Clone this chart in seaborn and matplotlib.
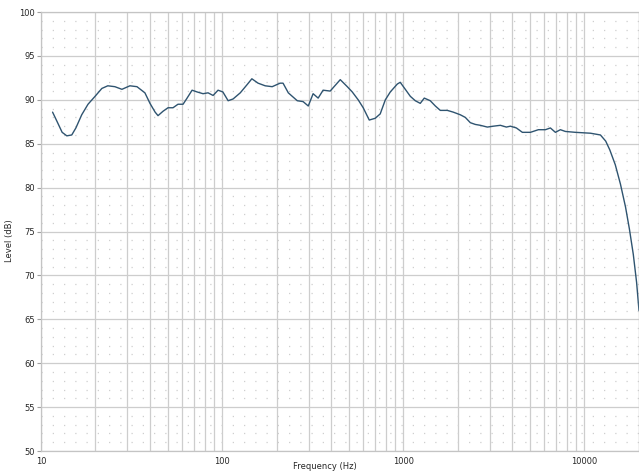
import matplotlib.pyplot as plt
import matplotlib.ticker as mticker
import pandas as pd
import seaborn as sns

# frequency response (Hz, dB)
freq = [11.6, 12.3, 13.1, 13.9, 14.8, 15.6, 16.8, 18.2, 19.9, 21.7, 23.4, 25.6, 28.0,
        31.0, 33.9, 37.5, 40.0, 42.7, 44.3, 47.2, 50.3, 53.6, 57.1, 60.9, 64.1, 68.3,
        72.8, 78.5, 83.7, 89.2, 95.0, 101, 108, 115, 126, 137, 146, 158, 173, 189, 209,
        217, 232, 244, 260, 280, 299, 318, 339, 361, 395, 449, 491, 523, 564, 601, 649,
        700, 746, 796, 848, 927, 962, 1026, 1094, 1165, 1241, 1306, 1409, 1503, 1601,
        1750, 1888, 2064, 2200, 2344, 2498, 2662, 2910, 3142, 3435, 3707, 3900, 4209,
        4543, 5031, 5568, 6088, 6486, 6912, 7365, 7848, 8913, 10790, 12250, 13100,
        13800, 14800, 15800, 16850, 17700, 18600, 19400, 20000]
level = [88.6, 87.5, 86.3, 85.9, 86.0, 86.8, 88.3, 89.5, 90.4, 91.3, 91.6, 91.5, 91.2,
         91.6, 91.5, 90.8, 89.6, 88.6, 88.2, 88.7, 89.1, 89.1, 89.5, 89.5, 90.2, 91.1,
         90.9, 90.7, 90.8, 90.5, 91.1, 90.9, 89.9, 90.1, 90.8, 91.7, 92.4, 91.9, 91.6,
         91.5, 91.9, 91.9, 90.8, 90.4, 89.9, 89.8, 89.3, 90.7, 90.2, 91.1, 91.0, 92.3,
         91.5, 90.9, 90.0, 89.1, 87.7, 87.9, 88.4, 90.0, 90.9, 91.8, 92.0, 91.2, 90.4,
         89.9, 89.6, 90.2, 89.9, 89.3, 88.8, 88.8, 88.6, 88.3, 88.0, 87.4, 87.2, 87.1,
         86.9, 87.0, 87.1, 86.9, 87.0, 86.8, 86.3, 86.3, 86.6, 86.6, 86.8, 86.3, 86.6,
         86.4, 86.3, 86.2, 86.0, 85.3, 84.3, 82.6, 80.4, 77.8, 75.3, 72.4, 69.2, 66.0]

df = pd.DataFrame({'freq': freq, 'level': level})

sns.set_style("white")
plt.rcParams['font.family'] = ['DejaVu Sans']

fig = plt.figure(figsize=(6.39, 4.73), dpi=100)
ax = fig.add_axes([0.064, 0.0465, 0.936, 0.928])

sns.lineplot(data=df, x='freq', y='level', ax=ax, color='#2f5470', linewidth=1.0)

ax.set_xscale('log')
ax.set_xlim(10, 20000)
ax.set_ylim(50, 100)

ax.xaxis.set_major_locator(mticker.FixedLocator([10, 100, 1000, 10000]))
ax.xaxis.set_major_formatter(mticker.FixedFormatter(['10', '100', '1000', '10000']))
ax.xaxis.set_minor_locator(mticker.LogLocator(base=10, subs=range(2, 10)))
ax.xaxis.set_minor_formatter(mticker.NullFormatter())
ax.yaxis.set_major_locator(mticker.MultipleLocator(5))
ax.yaxis.set_minor_locator(mticker.MultipleLocator(1))

ax.grid(which='major', axis='both', color='#cdcdcd', linewidth=0.9)
ax.grid(which='minor', axis='x', color='#cdcdcd', linewidth=0.9)
ax.grid(which='minor', axis='y', color='#cfcfcf', linewidth=0.9, linestyle=(0, (1, 8)))
ax.set_axisbelow(True)

for s in ax.spines.values():
    s.set_color('#c4c4c4')
    s.set_linewidth(0.9)

ax.tick_params(axis='y', which='major', length=3, color='#a0a0a0', labelsize=6, pad=1, left=True)
ax.tick_params(axis='y', which='minor', length=0)
ax.tick_params(axis='x', which='both', length=0, labelsize=6, pad=4)

ax.set_xlabel('Frequency (Hz)', fontsize=6)
ax.set_ylabel('Level (dB)', fontsize=6)
ax.xaxis.set_label_coords(0.475, -0.036)
ax.yaxis.set_label_coords(-0.052, 0.48)
ax.xaxis.label.set_va('center')
ax.yaxis.label.set_va('center')

fig.savefig('out.png', dpi=100)
